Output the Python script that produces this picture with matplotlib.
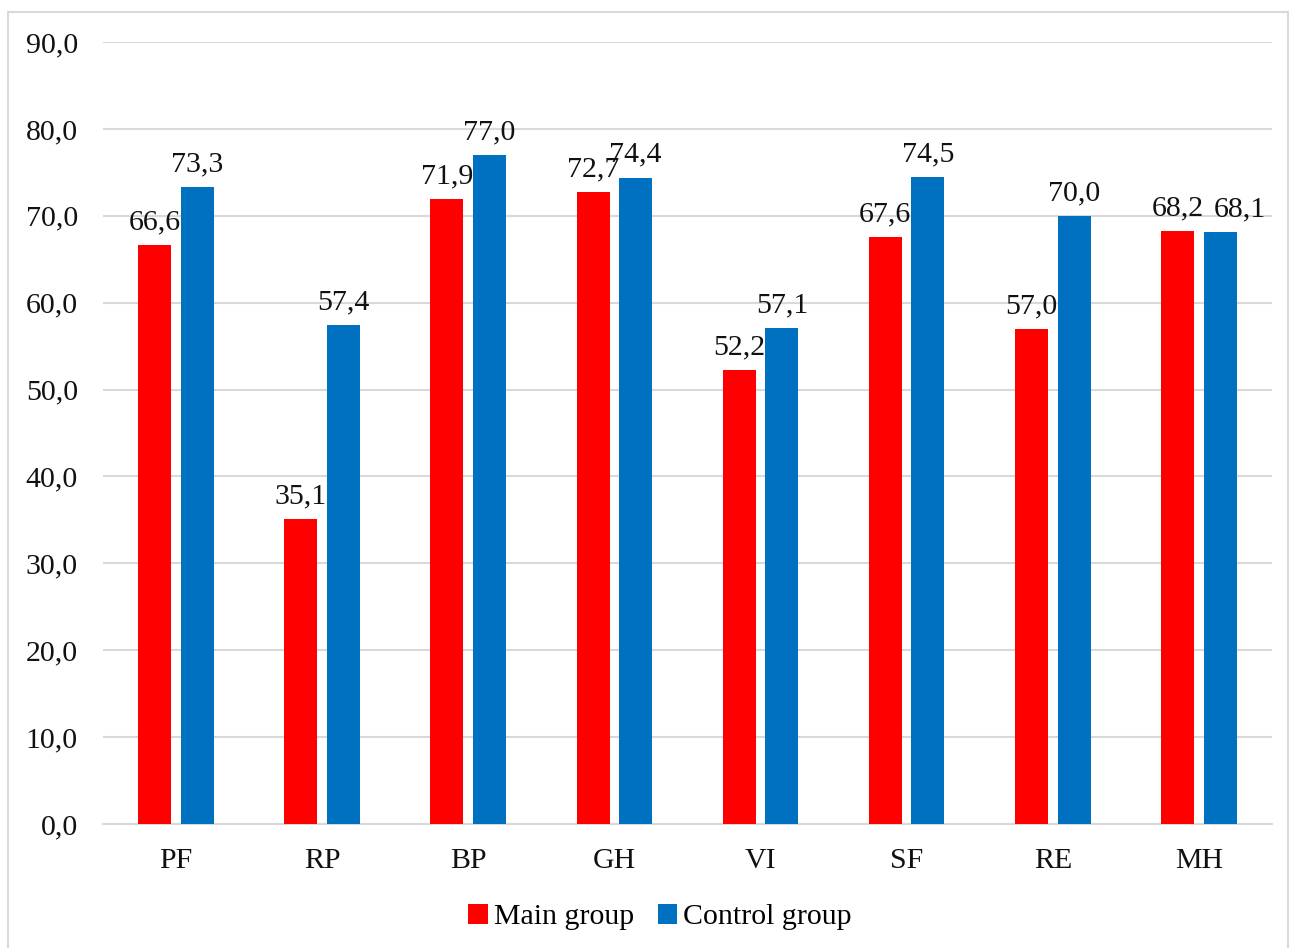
import matplotlib
matplotlib.use("Agg")
import matplotlib.pyplot as plt
import numpy as np
from matplotlib.patches import Rectangle

categories = ["PF", "RP", "BP", "GH", "VI", "SF", "RE", "MH"]
main_group = [66.6, 35.1, 71.9, 72.7, 52.2, 67.6, 57.0, 68.2]
control_group = [73.3, 57.4, 77.0, 74.4, 57.1, 74.5, 70.0, 68.1]
series_names = ["Main group", "Control group"]

RED = "#FF0000"
BLUE = "#0070C0"
GRID = "#D9D9D9"
TXT = "#111111"
FS = 21.5

plt.rcParams["font.family"] = ["Liberation Serif", "DejaVu Serif"]

fig = plt.figure(figsize=(12.9, 9.48), dpi=100)
ax = fig.add_axes([0.0798, 0.1308, 0.9062, 0.8249])

# chart area border
fig.patches.append(Rectangle((8 / 1290, -0.01), (1288 - 8) / 1290, 1 - 12 / 948 + 0.01,
                             transform=fig.transFigure, fill=False,
                             edgecolor=GRID, linewidth=1.5))

x = np.arange(len(categories))
w = 0.226
off = 0.146

bars_main = ax.bar(x - off, main_group, w, color=RED, label=series_names[0], zorder=3)
bars_ctrl = ax.bar(x + off, control_group, w, color=BLUE, label=series_names[1], zorder=3)

# labels that Excel nudged sideways to avoid overlap (points)
nudge = {("ctrl", "MH"): 14}

for key, bars, vals in (("main", bars_main, main_group), ("ctrl", bars_ctrl, control_group)):
    for cat, b, v in zip(categories, bars, vals):
        dx = nudge.get((key, cat), 0)
        ax.annotate(f"{v:.1f}".replace(".", ","),
                    (b.get_x() + b.get_width() / 2, v),
                    xytext=(dx, 7), textcoords="offset points",
                    ha="center", va="bottom", fontsize=FS, color=TXT)

ax.set_xlim(-0.5, len(categories) - 0.5)
ax.set_ylim(0, 90)
ax.set_yticks(np.arange(0, 91, 10))
ax.set_yticklabels([f"{t:.1f}".replace(".", ",") for t in np.arange(0, 91, 10)])
ax.set_xticks(x)
ax.set_xticklabels(categories)
ax.tick_params(axis="both", length=0, labelsize=FS, colors=TXT)
ax.tick_params(axis="y", pad=18)
ax.tick_params(axis="x", pad=17)

ax.grid(axis="y", color=GRID, linewidth=1.5, zorder=0)
for s in ["top", "right", "left"]:
    ax.spines[s].set_visible(False)
ax.spines["bottom"].set_color(GRID)
ax.spines["bottom"].set_linewidth(1.5)

fig.legend(loc="center", bbox_to_anchor=(660 / 1290, 1 - 917 / 948), ncol=2,
           frameon=False, fontsize=FS, handlelength=0.65, handleheight=0.65,
           handletextpad=0.2, columnspacing=0.8)

fig.savefig("out.png", dpi=100, facecolor="white")
